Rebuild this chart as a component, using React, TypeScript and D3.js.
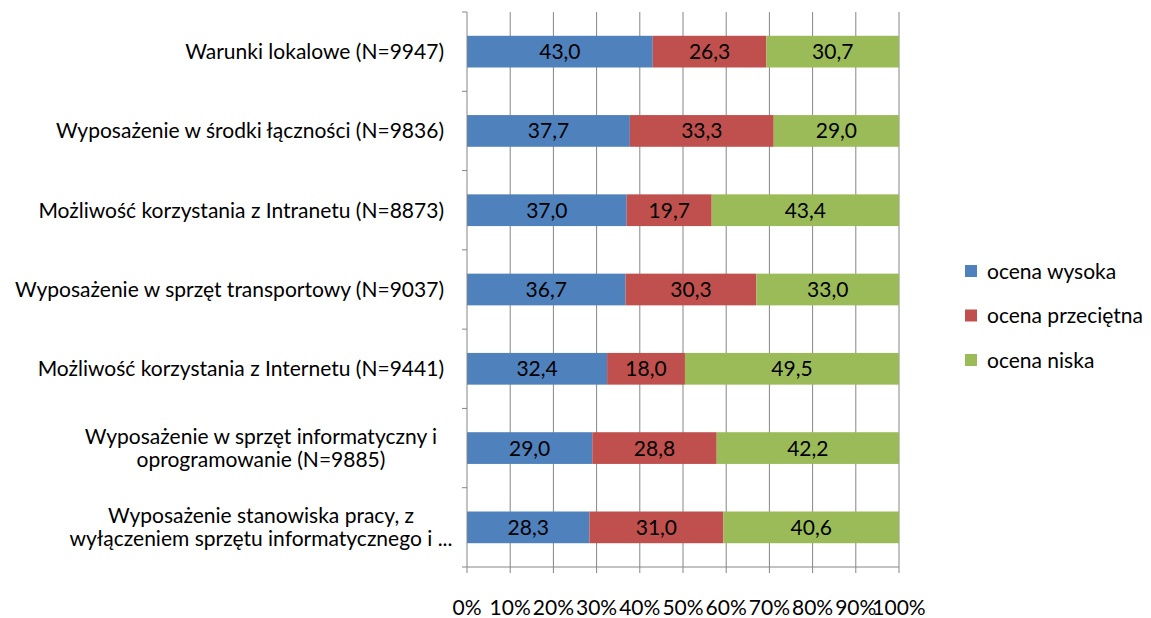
import { useEffect, useRef } from "react";
import * as d3 from "d3";

const WIDTH = 1151;
const HEIGHT = 618;
const PLOT = { left: 467, right: 899, top: 12, bottom: 567 };
const FONT = "Lato, 'Open Sans', sans-serif";
const FS = 21;

const categories: string[][] = [
  ["Warunki lokalowe (N=9947)"],
  ["Wyposażenie w środki łączności (N=9836)"],
  ["Możliwość korzystania z Intranetu (N=8873)"],
  ["Wyposażenie w sprzęt transportowy (N=9037)"],
  ["Możliwość korzystania z Internetu  (N=9441)"],
  ["Wyposażenie w sprzęt informatyczny i", "oprogramowanie (N=9885)"],
  ["Wyposażenie stanowiska pracy, z", "wyłączeniem sprzętu informatycznego i ..."],
];

const seriesNames = ["ocena wysoka", "ocena przeciętna", "ocena niska"];
const seriesColors = ["#4F81BD", "#C0504D", "#9BBB59"];

const wysoka = [43.0, 37.7, 37.0, 36.7, 32.4, 29.0, 28.3];
const przecietna = [26.3, 33.3, 19.7, 30.3, 18.0, 28.8, 31.0];
const niska = [30.7, 29.0, 43.4, 33.0, 49.5, 42.2, 40.6];

const xTicks = [0, 0.1, 0.2, 0.3, 0.4, 0.5, 0.6, 0.7, 0.8, 0.9, 1];

export default function App() {
  const svgRef = useRef<SVGSVGElement>(null);

  useEffect(() => {
    if (!svgRef.current) return;
    const svg = d3.select(svgRef.current);
    svg.selectAll("*").remove();

    const series = [wysoka, przecietna, niska];
    const idx = categories.map((_, i) => i);

    const x = d3.scaleLinear().domain([0, 1]).range([PLOT.left, PLOT.right]);
    const y = d3
      .scaleBand<number>()
      .domain(idx)
      .range([PLOT.top, PLOT.bottom])
      .paddingInner(0.6)
      .paddingOuter(0.3);
    const step = y.step();
    const axisColor = "#868686";

    // vertical gridlines
    svg
      .append("g")
      .selectAll("line")
      .data(xTicks.slice(1))
      .join("line")
      .attr("x1", (d) => x(d))
      .attr("x2", (d) => x(d))
      .attr("y1", PLOT.top)
      .attr("y2", PLOT.bottom)
      .attr("stroke", axisColor);

    // bars, normalised to 100%
    const rows = idx.map((i) => {
      const vals = series.map((s) => s[i]);
      const total = d3.sum(vals);
      let acc = 0;
      return vals.map((v, k) => {
        const start = acc / total;
        acc += v;
        return { i, k, v, x0: start, x1: acc / total };
      });
    });

    const barG = svg.append("g");
    rows.flat().forEach((r) => {
      const bx = x(r.x0);
      const bw = x(r.x1) - x(r.x0);
      const by = y(r.i)!;
      barG
        .append("rect")
        .attr("x", bx)
        .attr("y", by)
        .attr("width", bw)
        .attr("height", y.bandwidth())
        .attr("fill", seriesColors[r.k]);
      barG
        .append("text")
        .attr("x", bx + bw / 2)
        .attr("y", by + y.bandwidth() / 2)
        .attr("dy", "0.36em")
        .attr("text-anchor", "middle")
        .attr("font-family", FONT)
        .attr("font-size", FS)
        .attr("fill", "#000")
        .text(d3.format(".1f")(r.v).replace(".", ","));
    });

    // axis lines
    svg
      .append("line")
      .attr("x1", PLOT.left)
      .attr("x2", PLOT.left)
      .attr("y1", PLOT.top)
      .attr("y2", PLOT.bottom)
      .attr("stroke", axisColor);
    svg
      .append("line")
      .attr("x1", PLOT.left)
      .attr("x2", PLOT.right)
      .attr("y1", PLOT.bottom)
      .attr("y2", PLOT.bottom)
      .attr("stroke", axisColor);

    // left ticks at category boundaries
    svg
      .append("g")
      .selectAll("line")
      .data(d3.range(categories.length + 1))
      .join("line")
      .attr("x1", PLOT.left - 5)
      .attr("x2", PLOT.left)
      .attr("y1", (d) => PLOT.top + d * step)
      .attr("y2", (d) => PLOT.top + d * step)
      .attr("stroke", axisColor);

    // bottom ticks + labels
    svg
      .append("g")
      .selectAll("line")
      .data(xTicks)
      .join("line")
      .attr("x1", (d) => x(d))
      .attr("x2", (d) => x(d))
      .attr("y1", PLOT.bottom)
      .attr("y2", PLOT.bottom + 6)
      .attr("stroke", axisColor);
    svg
      .append("g")
      .selectAll("text")
      .data(xTicks)
      .join("text")
      .attr("x", (d) => x(d))
      .attr("y", 607)
      .attr("dy", "0.36em")
      .attr("text-anchor", "middle")
      .attr("font-family", FONT)
      .attr("font-size", FS)
      .attr("fill", "#000")
      .text((d) => d3.format(".0%")(d));

    // category labels
    const labelRight = 444;
    const wrapCenter = 261;
    const lineH = 23;
    categories.forEach((lines, i) => {
      const cy = y(i)! + y.bandwidth() / 2;
      const t = svg
        .append("text")
        .attr("font-family", FONT)
        .attr("font-size", FS)
        .attr("fill", "#000")
        .attr("text-anchor", lines.length === 1 ? "end" : "middle");
      lines.forEach((l, j) =>
        t
          .append("tspan")
          .attr("x", lines.length === 1 ? labelRight : wrapCenter)
          .attr("y", cy + (j - (lines.length - 1) / 2) * lineH)
          .attr("dy", "0.36em")
          .text(l)
      );
    });

    // legend
    const legend = svg.append("g").attr("transform", "translate(965,271)");
    seriesNames.forEach((name, k) => {
      const g = legend.append("g").attr("transform", `translate(0,${k * 44.5})`);
      g.append("rect")
        .attr("x", 0)
        .attr("y", -6)
        .attr("width", 12)
        .attr("height", 12)
        .attr("fill", seriesColors[k]);
      g.append("text")
        .attr("x", 22)
        .attr("y", 0)
        .attr("dy", "0.36em")
        .attr("font-family", FONT)
        .attr("font-size", FS)
        .attr("fill", "#000")
        .text(name);
    });
  }, []);

  return (
    <svg
      ref={svgRef}
      width={WIDTH}
      height={HEIGHT}
      style={{ position: "absolute", left: 0, top: 0, display: "block" }}
    />
  );
}
